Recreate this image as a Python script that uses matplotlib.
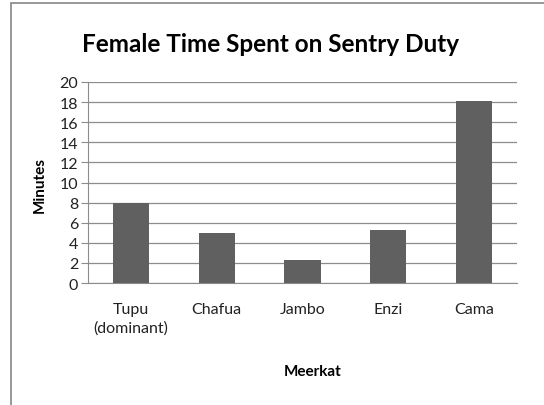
import matplotlib.pyplot as plt
from matplotlib.patches import Rectangle

meerkats = ["Tupu\n(dominant)", "Chafua", "Jambo", "Enzi", "Cama"]
minutes = [8.0, 5.0, 2.3, 5.3, 18.1]
yticks = list(range(0, 21, 2))

plt.rcParams['font.family'] = ['Lato', 'DejaVu Sans']

fig = plt.figure(figsize=(5.44, 4.06), dpi=100)
fig.patches.append(Rectangle((11 / 544, -0.01), 0.99, 402 / 406 + 0.01,
                             transform=fig.transFigure, fill=False,
                             edgecolor='#868686', linewidth=1.2))

ax = fig.add_axes([88 / 544, 1 - 284 / 406, (517 - 88) / 544, (284 - 83) / 406])
x = range(len(meerkats))
ax.bar(x, minutes, width=0.42, color='#606060', zorder=3)
ax.set_xlim(-0.5, len(meerkats) - 0.5)
ax.set_ylim(0, 20)
ax.set_yticks(yticks)
ax.yaxis.grid(True, color='#8c8c8c', linewidth=0.9, zorder=0)
ax.set_xticks(list(x))
ax.set_xticklabels(meerkats, fontsize=11.5, color='#222222', linespacing=1.35)
ax.tick_params(axis='x', length=0, pad=14)
ax.tick_params(axis='y', length=5, color='#8c8c8c', labelsize=11.5, labelcolor='#222222', pad=2)
for s in ['top', 'right']:
    ax.spines[s].set_visible(False)
for s in ['left', 'bottom']:
    ax.spines[s].set_color('#8c8c8c')

fig.text(270 / 544, 1 - 44 / 406, "Female Time Spent on Sentry Duty",
         ha='center', va='center', fontsize=17.5, fontweight='bold')
fig.text(40 / 544, 1 - 185 / 406, "Minutes", rotation=90, ha='center', va='center',
         fontsize=11, fontweight='bold')
fig.text(313 / 544, 1 - 372 / 406, "Meerkat", ha='center', va='center',
         fontsize=11, fontweight='bold')

fig.savefig("out.png", dpi=100)
